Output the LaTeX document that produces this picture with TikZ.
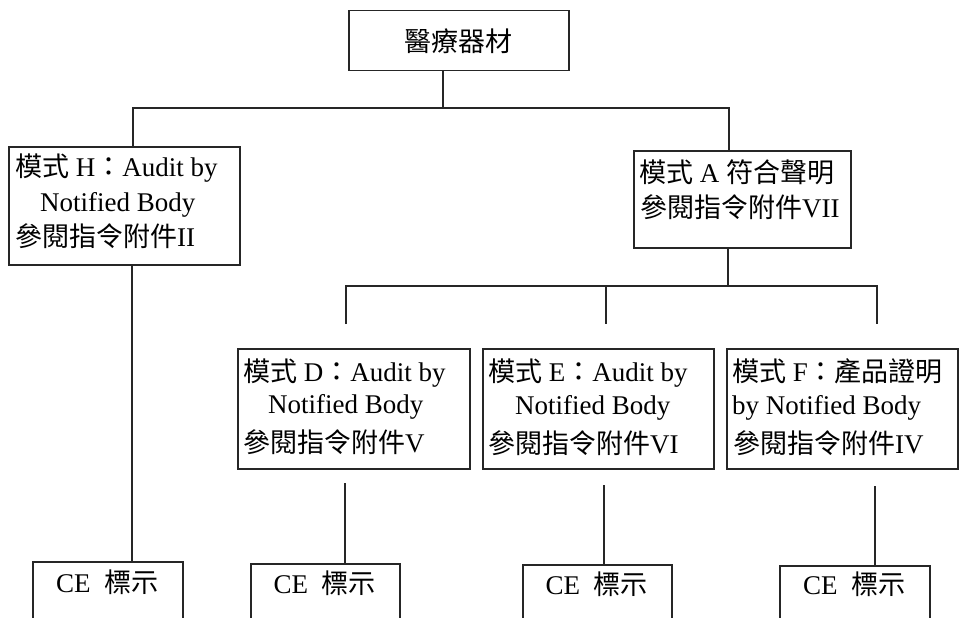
\documentclass[tikz,border=0pt]{standalone}
\usepackage{fontspec}
\setmainfont{Liberation Serif}
\newfontfamily\cjk{Noto Sans CJK TC}
\newcommand{\zh}[1]{{\cjk #1}}
\begin{document}
\begin{tikzpicture}[x=1pt,y=-1pt,
  box/.style={draw=black!85, line width=1.5pt, rectangle, inner sep=0pt, anchor=north west},
  txt/.style={anchor=base west, inner sep=0pt, font=\fontsize{27}{32}\selectfont},
  conn/.style={draw=black!85, line width=1.5pt}]
\useasboundingbox (0,0) rectangle (959,618);
\clip (0,0) rectangle (959,618);
\fill[white] (0,0) rectangle (959,618);
% boxes
\node[box, minimum width=220, minimum height=60] (top) at (348,10) {};
\node[box, minimum width=231, minimum height=118] (H) at (8,146) {};
\node[box, minimum width=217, minimum height=97] (A) at (633,150) {};
\node[box, minimum width=232, minimum height=120] (D) at (237,348) {};
\node[box, minimum width=231, minimum height=120] (E) at (482,348) {};
\node[box, minimum width=231, minimum height=120] (F) at (726,348) {};
\node[box, minimum width=150, minimum height=90] (ce1) at (32,561) {};
\node[box, minimum width=149, minimum height=90] (ce2) at (250,563) {};
\node[box, minimum width=149, minimum height=90] (ce3) at (522,564) {};
\node[box, minimum width=150, minimum height=90] (ce4) at (779,565) {};
% texts
\node[txt, anchor=center] (toptxt) at (top.center) {\zh{醫療器材}};
\node[txt] (h1) at (15,176) {\zh{模式} H\zh{：}Audit by};
\node[txt] (h2) at (40,211) {Notified Body};
\node[txt] (h3) at (15,246) {\zh{參閱指令附件}II};
\node[txt] (a1) at (639,182) {\zh{模式} A \zh{符合聲明}};
\node[txt] (a2) at (640,217) {\zh{參閱指令附件}VII};
\node[txt] (d1) at (243,381) {\zh{模式} D\zh{：}Audit by};
\node[txt] (d2) at (268,413) {Notified Body};
\node[txt] (d3) at (243,452) {\zh{參閱指令附件}V};
\node[txt] (e1) at (488,381) {\zh{模式} E\zh{：}Audit by};
\node[txt] (e2) at (515,414) {Notified Body};
\node[txt] (e3) at (488,453) {\zh{參閱指令附件}VI};
\node[txt] (f1) at (732,381) {\zh{模式} F\zh{：產品證明}};
\node[txt] (f2) at (732,414) {by Notified Body};
\node[txt] (f3) at (733,453) {\zh{參閱指令附件}IV};
\node[txt, anchor=base] (ce1t) at (107,592) {CE\hspace{0.5em}\zh{標示}};
\node[txt, anchor=base] (ce2t) at (324.5,593) {CE\hspace{0.5em}\zh{標示}};
\node[txt, anchor=base] (ce3t) at (596.5,594) {CE\hspace{0.5em}\zh{標示}};
\node[txt, anchor=base] (ce4t) at (854,594) {CE\hspace{0.5em}\zh{標示}};
% connector coordinates
\coordinate (t0) at (443,108);
\coordinate (busL) at (133,108);
\coordinate (busR) at (729,108);
\coordinate (hx) at (132,0);
\coordinate (ax) at (728,286);
\coordinate (b2L) at (346,286);
\coordinate (b2M) at (606,286);
\coordinate (b2R) at (877,286);
\coordinate (dL) at (346,324);
\coordinate (dM) at (606,324);
\coordinate (dR) at (877,324);
\coordinate (uD) at (345,483);
\coordinate (uE) at (604,485);
\coordinate (uF) at (875,486);
% connectors
\draw[conn] (top.south -| t0) -- (t0);
\draw[conn] (H.north -| busL) -- (busL) -- (busR) -- (A.north -| busR);
\draw[conn] (H.south -| hx) -- (ce1.north -| hx);
\draw[conn] (A.south -| ax) -- (ax);
\draw[conn] (dL) -- (b2L) -- (b2R) -- (dR);
\draw[conn] (b2M) -- (dM);
\draw[conn] (uD) -- (ce2.north -| uD);
\draw[conn] (uE) -- (ce3.north -| uE);
\draw[conn] (uF) -- (ce4.north -| uF);
\end{tikzpicture}
\end{document}
